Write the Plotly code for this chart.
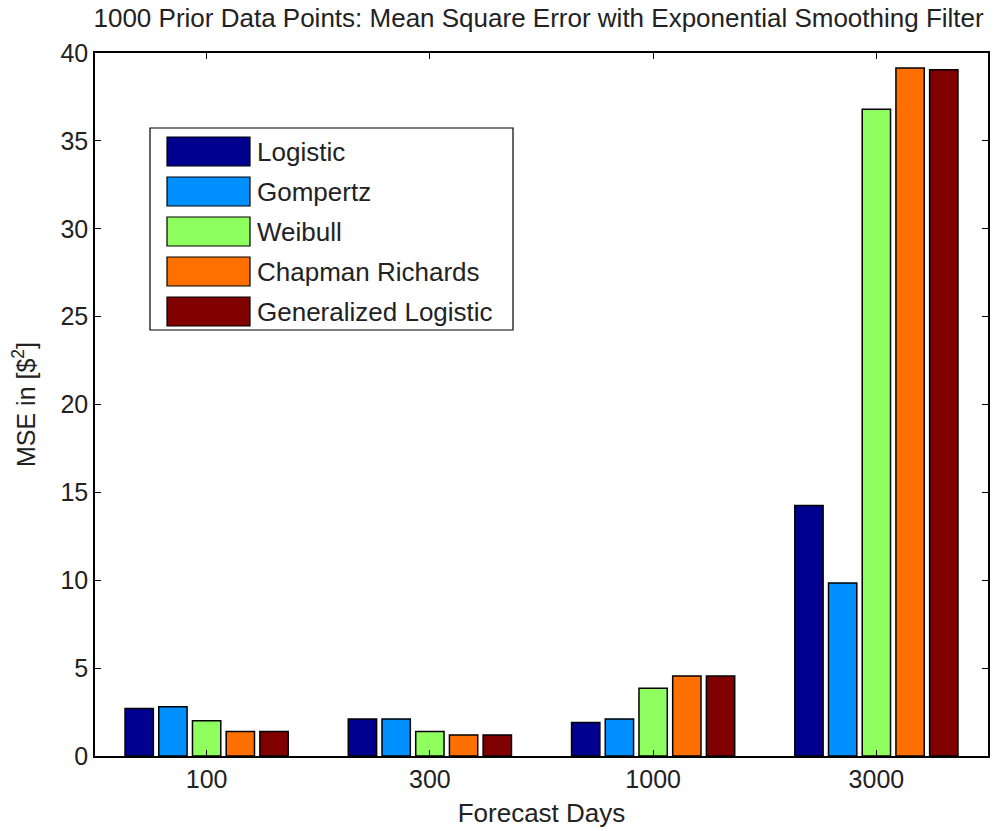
import plotly.graph_objects as go

# Forecast horizons (days) and MSE per growth model
categories = ["100", "300", "1000", "3000"]
models = ["Logistic", "Gompertz", "Weibull", "Chapman Richards", "Generalized Logistic"]
logistic = [2.7, 2.1, 1.9, 14.25]
gompertz = [2.8, 2.1, 2.1, 9.85]
weibull = [2.0, 1.4, 3.85, 36.8]
chapman_richards = [1.4, 1.2, 4.55, 39.15]
generalized_logistic = [1.4, 1.2, 4.55, 39.05]
series = [logistic, gompertz, weibull, chapman_richards, generalized_logistic]
colors = ["#00008F", "#0090FF", "#8FFF60", "#FF7000", "#800000"]
y_ticks = [0, 5, 10, 15, 20, 25, 30, 35, 40]

FONT = "Liberation Sans, Arial, sans-serif"
INK = "#222"

fig = go.Figure()
for name, vals, col in zip(models, series, colors):
    fig.add_trace(go.Bar(
        x=categories, y=vals, name=name,
        marker=dict(color=col, line=dict(color="black", width=1.5)),
        showlegend=False,
    ))

# Boxed legend with wide swatches, laid out in paper coordinates
plot_w = 1003 - 95 - 15
plot_h = 831 - 53 - 75
def px_x(p):
    return (p - 95) / plot_w
def px_y(p):
    return (756 - p) / plot_h

shapes = [dict(type="rect", xref="paper", yref="paper",
               x0=px_x(150), x1=px_x(513), y0=px_y(330), y1=px_y(128),
               line=dict(color="black", width=1.2), fillcolor="white", layer="above")]
annotations = []
for i, (name, col) in enumerate(zip(models, colors)):
    top = 137 + 40 * i
    shapes.append(dict(type="rect", xref="paper", yref="paper",
                       x0=px_x(167), x1=px_x(250), y0=px_y(top + 29), y1=px_y(top),
                       line=dict(color="black", width=1.2), fillcolor=col, layer="above"))
    annotations.append(dict(xref="paper", yref="paper", x=px_x(255), y=px_y(top + 15),
                            text=name, showarrow=False, xanchor="left", yanchor="middle",
                            font=dict(family=FONT, size=26, color=INK)))

fig.update_layout(
    width=1003, height=831,
    margin=dict(l=95, r=15, t=53, b=75),
    paper_bgcolor="white", plot_bgcolor="white",
    barmode="group", bargap=0.245, bargroupgap=0.16,
    font=dict(family=FONT, size=24, color=INK),
    title=dict(text="1000 Prior Data Points: Mean Square Error with Exponential Smoothing Filter",
               x=0.537, xanchor="center", y=0.99, yanchor="top",
               font=dict(family=FONT, size=26, color=INK)),
    xaxis=dict(range=[-0.5, 3.5], showline=True, linecolor="black", linewidth=1.5,
               mirror="ticks", ticks="inside", ticklen=6, tickcolor="black",
               automargin=False,
               title=dict(text="Forecast Days", standoff=12, font=dict(size=26)),
               tickfont=dict(size=25), showgrid=False),
    yaxis=dict(range=[0, 40], tickvals=y_ticks, showline=True, linecolor="black", linewidth=1.5,
               mirror="ticks", ticks="inside", ticklen=6, tickcolor="black",
               automargin=False,
               title=dict(text="MSE in [$<sup>2</sup>]", standoff=18, font=dict(size=25)),
               tickfont=dict(size=25), showgrid=False, zeroline=False),
    shapes=shapes, annotations=annotations,
)

fig.write_html("out.html")
